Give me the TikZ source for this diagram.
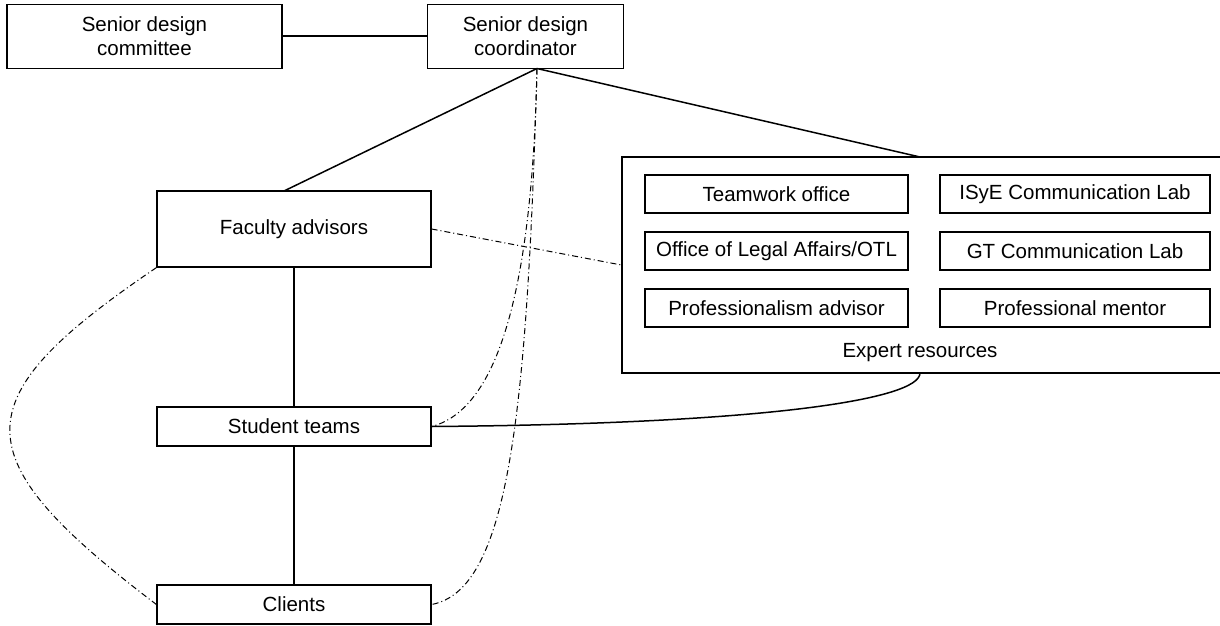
\documentclass[tikz,border=0pt]{standalone}
\usepackage{fontspec}
\setmainfont{Liberation Sans}
\begin{document}
\begin{tikzpicture}[x=1pt,y=-1pt,
  box/.style={draw,line width=1.2pt,inner sep=0pt,align=center,font=\fontsize{20.5}{24}\selectfont},
  lbl/.style={inner sep=0pt,font=\fontsize{20.5}{24}\selectfont},
  conn/.style={line width=1.5pt},
  dd/.style={line width=1pt,dash pattern=on 6pt off 3pt on 1pt off 3pt}]
\useasboundingbox (0,0) rectangle (1220,626);
\clip (0,0) rectangle (1220,626);
\node[box,minimum width=275,minimum height=64] (com) at (144.5,36.5) {Senior design\\committee};
\node[box,minimum width=196,minimum height=64] (crd) at (525.5,36.5) {Senior design\\coordinator};
\node[box,minimum width=274,minimum height=76] (fac) at (294,229) {Faculty advisors};
\node[box,minimum width=274,minimum height=39] (stu) at (294,426.5) {Student teams};
\node[box,minimum width=274,minimum height=39] (cli) at (294,604.5) {Clients};
\node[box,minimum width=600,minimum height=216] (exp) at (922,265) {};
\node[box,minimum width=263,minimum height=38] (tw) at (776.5,194) {Teamwork office};
\node[box,minimum width=270,minimum height=38] (isye) at (1075,194) {ISyE Communication Lab};
\node[box,minimum width=263,minimum height=38] (ola) at (776.5,251) {Office of Legal Affairs/OTL};
\node[box,minimum width=270,minimum height=38] (gt) at (1075,251) {GT Communication Lab};
\node[box,minimum width=263,minimum height=38] (pa) at (776.5,308) {Professionalism advisor};
\node[box,minimum width=270,minimum height=38] (pm) at (1075,308) {Professional mentor};
\node[lbl] (expl) at (920,353) {Expert resources};
\coordinate (cb) at (537,68.5);
\coordinate (ft) at (284,191);
\coordinate (et) at (920,157);
\coordinate (eb) at (920,373);
\draw[line width=2pt] (com.east) -- (crd.west);
\draw[conn] (cb) -- (ft);
\draw[conn] (cb) -- (et);
\draw[conn] (fac.south) -- (stu.north);
\draw[conn] (stu.south) -- (cli.north);
\draw[conn] (stu.east) .. controls (760,424) and (920,400) .. (eb);
\draw[dd] (fac.east) -- (exp.west);
\draw[dd] (cb) .. controls (532,300) and (495,410) .. (stu.east);
\draw[dd] (cb) .. controls (527,420) and (508,590) .. (cli.east);
\draw[dd] (fac.south west) .. controls (-39,400) and (-39,456) .. (cli.west);
\end{tikzpicture}
\end{document}
